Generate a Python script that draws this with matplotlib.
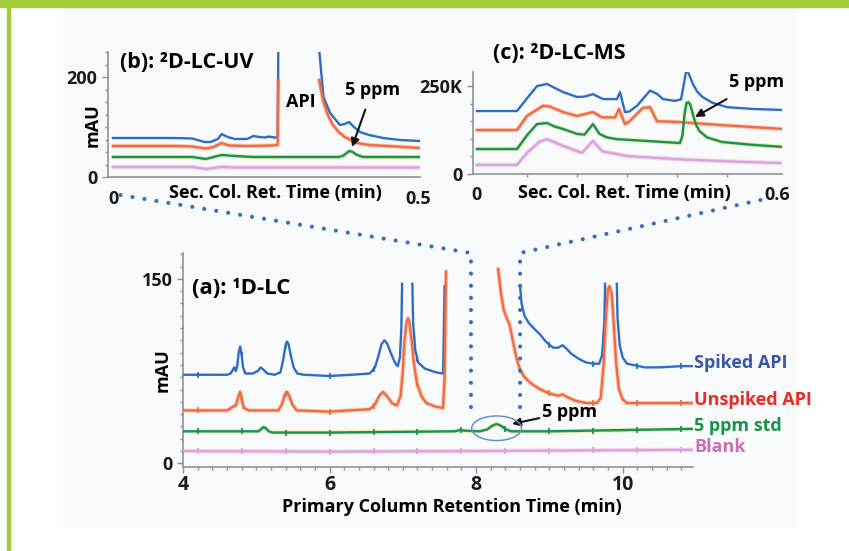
import numpy as np
import matplotlib
matplotlib.use("Agg")
import matplotlib.pyplot as plt
from matplotlib.patches import Rectangle, Ellipse
from matplotlib.lines import Line2D
from matplotlib.ticker import MultipleLocator, FixedLocator, FixedFormatter

plt.rcParams['font.family'] = ['Open Sans', 'DejaVu Sans']
plt.rcParams['font.weight'] = 'bold'

NaN = np.nan

# ---- (a) 1D-LC chromatograms (time in min, mAU with stacking offsets) ----
a_spiked_t = [4.0, 4.6, 4.65, 4.68, 4.7, 4.72, 4.74, 4.76, 4.78, 4.8, 4.82, 4.85, 4.95, 5.02,
              5.06, 5.1, 5.15, 5.25, 5.33, 5.37, 5.4, 5.42, 5.44, 5.47, 5.51, 5.56, 5.65,
              6.0, 6.3, 6.55, 6.62, 6.67, 6.71, 6.75, 6.79, 6.84, 6.9, 6.93, 6.96, 6.98, 6.99,
              7.06, 7.13, 7.14, 7.17, 7.21, 7.3, 7.45, 7.55, 7.57,
              7.9,
              8.6, 8.62, 8.66, 8.72, 8.8, 8.87, 8.95, 9.05, 9.12, 9.18, 9.22, 9.3, 9.4, 9.5,
              9.6, 9.68, 9.72, 9.75, 9.76, 9.84, 9.92, 9.93, 9.96, 10.0, 10.06, 10.3, 10.5,
              10.8, 10.96]
a_spiked_v = [72, 72, 73, 76, 78, 75, 79, 90, 95, 88, 78, 73, 73, 75,
              78, 76, 73, 72, 74, 85, 96, 99, 97, 88, 78, 73, 72,
              71, 72, 73, 78, 88, 97, 100, 97, 89, 81, 79, 86, 110, 146,
              NaN, 146, 115, 92, 82, 77, 74, 73, 144,
              NaN,
              144, 130, 120, 114, 109, 105, 99, 94, 94, 96, 94, 89, 85, 82,
              81, 81, 88, 115, 146, NaN, 146, 118, 96, 86, 81, 78, 78,
              79, 79]

a_unspiked_t = [4.0, 4.6, 4.68, 4.72, 4.76, 4.78, 4.8, 4.83, 4.9, 5.3, 5.35, 5.39, 5.42,
                5.45, 5.49, 5.55, 6.0, 6.55, 6.62, 6.68, 6.73, 6.78, 6.85, 6.92, 6.97, 7.0,
                7.02, 7.05, 7.07, 7.09, 7.12, 7.15, 7.19, 7.25, 7.32, 7.45, 7.55, 7.57, 7.59,
                7.9,
                8.3, 8.34, 8.38, 8.42, 8.46, 8.5, 8.55, 8.6, 8.66, 8.75, 8.85, 8.95, 9.05,
                9.12, 9.18, 9.24, 9.35, 9.5, 9.65, 9.7, 9.74, 9.77, 9.8, 9.82, 9.85, 9.88,
                9.91, 9.95, 10.0, 10.06, 10.5, 10.96]
a_unspiked_v = [43, 43, 46, 47, 55, 58, 52, 45, 43, 43, 48, 56, 58,
                55, 48, 43, 42, 44, 48, 55, 58, 55, 49, 47, 55, 75,
                98, 114, 118, 115, 100, 82, 66, 55, 49, 46, 45, 70, 156,
                NaN,
                158, 138, 124, 118, 112, 100, 86, 76, 70, 65, 61, 58, 56,
                55, 56, 54, 51, 49, 49, 53, 80, 118, 142, 144, 138, 112,
                82, 60, 52, 49, 49, 49]

a_std_t = [4.0, 5.03, 5.07, 5.1, 5.13, 5.17, 5.22, 6.0, 7.7, 7.78, 7.85, 8.05, 8.15, 8.22,
           8.28, 8.34, 8.41, 8.48, 9.0, 10.0, 10.96]
a_std_v = [26, 26, 28, 29.5, 28.5, 26, 25, 25, 26, 27, 26.5, 26, 27.5, 30.5,
           32, 30.5, 27.5, 26, 26, 27, 28]

a_blank_t = [4.0, 6.0, 8.0, 9.5, 10.96]
a_blank_v = [10, 9.5, 10, 10.5, 11]

# heart-cut event marks on the 1D traces
cut_times = [4.2, 4.8, 5.4, 6.0, 6.6, 7.2, 7.8, 8.4, 9.0, 9.6, 10.2, 10.8]

# ---- (b) 2D-LC-UV (min, mAU) ----
b_spiked_t = [0, 0.1, 0.13, 0.15, 0.16, 0.172, 0.178, 0.188, 0.2, 0.22, 0.23, 0.24, 0.25,
              0.255, 0.265, 0.27, 0.271, 0.3, 0.338, 0.345, 0.356, 0.372, 0.38, 0.387,
              0.395, 0.405, 0.42, 0.443, 0.47, 0.503]
b_spiked_v = [78, 78, 77, 70, 70, 76, 86, 80, 76, 76, 82, 80, 79,
              81, 79, 80, 255, NaN, 255, 160, 128, 104, 106, 110,
              100, 90, 84, 78, 74, 72]

b_unspiked_t = [0, 0.1, 0.13, 0.152, 0.165, 0.178, 0.19, 0.22, 0.26, 0.27, 0.271, 0.3,
                0.338, 0.345, 0.352, 0.36, 0.37, 0.38, 0.39, 0.4, 0.42, 0.45, 0.503]
b_unspiked_v = [62, 62, 61, 57, 60, 68, 63, 62, 63, 64, 194, NaN,
                194, 150, 125, 105, 90, 80, 74, 68, 64, 62, 58]

b_std_t = [0, 0.13, 0.152, 0.165, 0.178, 0.2, 0.23, 0.37, 0.378, 0.384, 0.388, 0.393,
           0.4, 0.41, 0.503]
b_std_v = [40, 40, 36, 40, 44, 42, 40, 40, 43, 49, 52, 50, 44, 40, 40]

b_blank_t = [0, 0.13, 0.152, 0.165, 0.178, 0.2, 0.503]
b_blank_v = [20, 20, 16, 18, 20, 19, 19]

# ---- (c) 2D-LC-MS (min, K counts) ----
c_spiked_t = [0, 0.08, 0.1, 0.12, 0.14, 0.155, 0.172, 0.2, 0.215, 0.232, 0.252, 0.28, 0.286,
              0.296, 0.305, 0.32, 0.346, 0.36, 0.372, 0.395, 0.408, 0.413, 0.418, 0.421,
              0.425, 0.432, 0.44, 0.45, 0.47, 0.5, 0.55, 0.612]
c_spiked_v = [179, 179, 215, 250, 256, 245, 233, 219, 220, 227, 213, 213, 233,
              176, 178, 194, 237, 228, 213, 208, 212, 250, 290, 293,
              280, 255, 235, 220, 203, 190, 185, 182]

c_unspiked_t = [0, 0.08, 0.1, 0.132, 0.145, 0.172, 0.2, 0.232, 0.25, 0.276, 0.284, 0.296,
                0.305, 0.332, 0.346, 0.36, 0.4, 0.5, 0.612]
c_unspiked_v = [125, 125, 165, 194, 192, 176, 165, 176, 161, 161, 185, 142,
                150, 188, 190, 150, 148, 138, 128]

c_std_t = [0, 0.08, 0.1, 0.12, 0.14, 0.155, 0.172, 0.2, 0.215, 0.232, 0.245, 0.26, 0.28,
           0.35, 0.406, 0.411, 0.415, 0.419, 0.423, 0.427, 0.432, 0.438, 0.445, 0.46,
           0.49, 0.55, 0.612]
c_std_v = [71, 71, 110, 142, 145, 135, 128, 114, 112, 142, 114, 104, 99,
           93, 88, 110, 170, 202, 204, 196, 168, 140, 122, 104,
           91, 83, 77]

c_blank_t = [0, 0.08, 0.1, 0.125, 0.14, 0.172, 0.21, 0.232, 0.25, 0.3, 0.4, 0.5, 0.612]
c_blank_v = [26, 26, 60, 92, 99, 80, 60, 94, 65, 51, 42, 36, 31]

series_names = ['Spiked API', 'Unspiked API', '5 ppm std', 'Blank']
line_colors = ['#2c6dc6', '#f36b40', '#13945a', '#dca3dc']
glow_colors = [None, '#fbcdbb', '#efe8a6', '#f0d6ef']
label_colors = ['#3a56a8', '#ee2a24', '#179447', '#c96fb5']

FS = 13
TITLE_FS = 15.5
GRAY = '#8c929c'


def draw_trace(ax, t, v, i, lw=1.7):
    if glow_colors[i] is not None:
        ax.plot(t, v, color=glow_colors[i], lw=lw + 1.4, solid_capstyle='round',
                solid_joinstyle='round', zorder=2)
    ax.plot(t, v, color=line_colors[i], lw=lw, solid_joinstyle='round', zorder=3)


def style_axes(ax):
    ax.set_facecolor('none')
    for s in ['top', 'right']:
        ax.spines[s].set_visible(False)
    for s in ['left', 'bottom']:
        ax.spines[s].set_color(GRAY)
        ax.spines[s].set_linewidth(1.2)
    ax.tick_params(which='both', colors=GRAY, labelcolor='#1a1a1a', labelsize=FS, width=1)
    ax.tick_params(which='major', length=4)
    ax.tick_params(which='minor', length=2.5)


fig = plt.figure(figsize=(8.49, 5.51), dpi=100)
W, H = 849.0, 551.0

# frame: light panel, green top bar and left rule
fig.patches.append(Rectangle((63 / W, 1 - 527 / H), (797 - 63) / W, (527 - 7) / H,
                             transform=fig.transFigure, color='#f9fafc', zorder=-3))
fig.patches.append(Rectangle((0, 1 - 6.5 / H), 1, 6.5 / H,
                             transform=fig.transFigure, color='#a3cc39', zorder=-2))
fig.patches.append(Rectangle((7 / W, 0), 3 / W, 1,
                             transform=fig.transFigure, color='#a3cc39', zorder=-2))

# ---------------- (a) main 1D-LC ----------------
ax = fig.add_axes([183 / W, 1 - 467 / H, 510 / W, 214 / H])
style_axes(ax)
a_traces = [(a_spiked_t, a_spiked_v), (a_unspiked_t, a_unspiked_v),
            (a_std_t, a_std_v), (a_blank_t, a_blank_v)]
for i, (t, v) in enumerate(a_traces):
    draw_trace(ax, t, v, i)
    tt = np.array(t, float)
    vv = np.array(v, float)
    ok = ~np.isnan(vv)
    mt = [c for c in cut_times if c <= tt[-1]]
    mv = np.interp(mt, tt[ok], vv[ok])
    keep = [k for k, c in enumerate(mt) if not np.isnan(np.interp(c, tt, vv)) and mv[k] < 120]
    ax.plot([mt[k] for k in keep], [mv[k] for k in keep], ls='none', marker='|',
            ms=4.5, mew=1.3, color=line_colors[i], zorder=4)
    ax.annotate(series_names[i], xy=(t[-1], v[-1]), xytext=(1, 2), textcoords='offset points',
                va='center', ha='left', color=label_colors[i], fontsize=FS, annotation_clip=False)

ax.set_xlim(4, 10.96)
ax.set_ylim(-3, 171)
ax.xaxis.set_major_locator(FixedLocator([4, 6, 8, 10]))
ax.xaxis.set_minor_locator(MultipleLocator(0.2))
ax.yaxis.set_major_locator(FixedLocator([0, 150]))
ax.yaxis.set_minor_locator(MultipleLocator(10))
ax.tick_params(axis='x', labelsize=FS + 1, pad=2)
ax.text(0.527, -0.187, 'Primary Column Retention Time (min)', transform=ax.transAxes,
        ha='center', va='center', fontsize=FS)
ax.text(-0.039, 0.453, 'mAU', transform=ax.transAxes, rotation=90,
        ha='center', va='center', fontsize=FS)
ax.text(4.12, 142, '(a): ¹D-LC', fontsize=TITLE_FS + 0.5, va='center', ha='left')

ax.add_patch(Ellipse((8.28, 28.5), 0.68, 20, fill=False, edgecolor='#6a8fd0', lw=1.1, zorder=5))
ax.annotate('5 ppm', xy=(8.49, 32), xytext=(8.9, 42), fontsize=FS, va='center', ha='left',
            arrowprops=dict(arrowstyle='-|>', color='#111111', lw=1.5, mutation_scale=12,
                            shrinkA=0, shrinkB=0))

# ---------------- (b) 2D-LC-UV ----------------
axb = fig.add_axes([108 / W, 1 - 177 / H, 312 / W, 125 / H])
style_axes(axb)
b_traces = [(b_spiked_t, b_spiked_v), (b_unspiked_t, b_unspiked_v),
            (b_std_t, b_std_v), (b_blank_t, b_blank_v)]
for i, (t, v) in enumerate(b_traces):
    draw_trace(axb, t, v, i)
axb.set_xlim(-0.0082, 0.5033)
axb.set_ylim(0, 250)
axb.xaxis.set_major_locator(FixedLocator([0, 0.5]))
axb.xaxis.set_major_formatter(FixedFormatter(['0', '0.5']))
axb.yaxis.set_major_locator(FixedLocator([0, 200]))
axb.yaxis.set_minor_locator(MultipleLocator(25))
axb.tick_params(axis='x', length=0, pad=9)
axb.text(0.538, -0.128, 'Sec. Col. Ret. Time (min)', transform=axb.transAxes,
         ha='center', va='center', fontsize=FS)
axb.text(-0.048, 0.416, 'mAU', transform=axb.transAxes, rotation=90,
         ha='center', va='center', fontsize=FS)
axb.text(0.011, 230, '(b): ²D-LC-UV', fontsize=TITLE_FS, va='center', ha='left')
axb.text(0.308, 150, 'API', fontsize=FS, va='center', ha='center')
axb.annotate('5 ppm', xy=(0.392, 60), xytext=(0.425, 174), fontsize=FS, va='center', ha='center',
             arrowprops=dict(arrowstyle='-|>', color='#111111', lw=1.5, mutation_scale=12,
                             shrinkA=6, shrinkB=0))

# ---------------- (c) 2D-LC-MS ----------------
axc = fig.add_axes([473 / W, 1 - 174 / H, 309 / W, 102 / H])
style_axes(axc)
c_traces = [(c_spiked_t, c_spiked_v), (c_unspiked_t, c_unspiked_v),
            (c_std_t, c_std_v), (c_blank_t, c_blank_v)]
for i, (t, v) in enumerate(c_traces):
    draw_trace(axc, t, v, i)
axc.set_xlim(-0.008, 0.61)
axc.set_ylim(0, 290)
axc.xaxis.set_major_locator(FixedLocator([0, 0.6]))
axc.xaxis.set_major_formatter(FixedFormatter(['0', '0.6']))
axc.xaxis.set_minor_locator(MultipleLocator(0.1))
axc.yaxis.set_major_locator(FixedLocator([0, 250]))
axc.yaxis.set_major_formatter(FixedFormatter(['0', '250K']))
axc.yaxis.set_minor_locator(MultipleLocator(50))
axc.tick_params(axis='x', which='major', length=0, pad=9)
axc.text(0.489, -0.186, 'Sec. Col. Ret. Time (min)', transform=axc.transAxes,
         ha='center', va='center', fontsize=FS)
axc.text(0.032, 344, '(c): ²D-LC-MS', fontsize=TITLE_FS, va='center', ha='left')
axc.annotate('5 ppm', xy=(0.436, 162), xytext=(0.56, 262), fontsize=FS, va='center', ha='center',
             arrowprops=dict(arrowstyle='-|>', color='#111111', lw=1.5, mutation_scale=12,
                             shrinkA=8, shrinkB=0))

# ---------------- dotted heart-cut connectors ----------------
def to_fig(trans, pt):
    return fig.transFigure.inverted().transform(trans.transform(pt))

cut_lo, cut_hi = 7.93, 8.6
left_path = [to_fig(axb.transAxes, (0.04, -0.144)),
             to_fig(ax.transData, (cut_lo, 171)),
             to_fig(ax.transData, (cut_lo, 38))]
right_path = [to_fig(axc.transAxes, (0.93, -0.255)),
              to_fig(ax.transData, (cut_hi, 171)),
              to_fig(ax.transData, (cut_hi, 38))]
for path in (left_path, right_path):
    xs = [p[0] for p in path]
    ys = [p[1] for p in path]
    fig.lines.append(Line2D(xs, ys, transform=fig.transFigure, color='#3a6fbd', lw=3.0,
                            ls=(0, (0.01, 2.9)), dash_capstyle='round', zorder=6))

fig.savefig('out.png', dpi=100, facecolor='white')
